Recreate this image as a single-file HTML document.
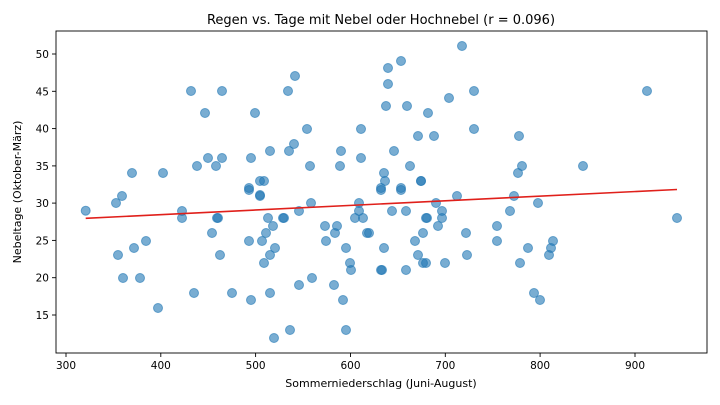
<!DOCTYPE html>
<html><head><meta charset="utf-8"><style>
html,body{margin:0;padding:0;background:#fff;}
svg{display:block;font-family:"DejaVu Sans","Liberation Sans",sans-serif;}
</style></head><body>
<svg width="720" height="405" viewBox="0 0 720 405" xmlns="http://www.w3.org/2000/svg">
<rect width="720" height="405" fill="#fff"/>
<text x="381" y="24" font-size="13" text-anchor="middle" fill="#000">Regen vs. Tage mit Nebel oder Hochnebel (r = 0.096)</text>
<g fill="#1f77b4" fill-opacity="0.6" stroke="#1f77b4" stroke-opacity="0.6" stroke-width="1">
<circle cx="85.7" cy="210.7" r="4.5"/><circle cx="116" cy="203" r="4.5"/><circle cx="122" cy="196" r="4.5"/>
<circle cx="118" cy="255" r="4.5"/><circle cx="123" cy="278" r="4.5"/><circle cx="134" cy="248" r="4.5"/>
<circle cx="146" cy="241" r="4.5"/><circle cx="140" cy="278" r="4.5"/><circle cx="158" cy="308" r="4.5"/>
<circle cx="182" cy="211" r="4.5"/><circle cx="182" cy="218" r="4.5"/><circle cx="194" cy="293" r="4.5"/>
<circle cx="212" cy="233" r="4.5"/><circle cx="218" cy="218" r="4.5"/><circle cx="217" cy="218" r="4.5"/>
<circle cx="220" cy="255" r="4.5"/><circle cx="232" cy="293" r="4.5"/><circle cx="249" cy="190" r="4.5"/>
<circle cx="249" cy="241" r="4.5"/><circle cx="251" cy="300" r="4.5"/><circle cx="260" cy="196" r="4.5"/>
<circle cx="262" cy="241" r="4.5"/><circle cx="266" cy="233" r="4.5"/><circle cx="268" cy="218" r="4.5"/>
<circle cx="273" cy="226" r="4.5"/><circle cx="264" cy="263" r="4.5"/><circle cx="270" cy="255" r="4.5"/>
<circle cx="275" cy="248" r="4.5"/><circle cx="270" cy="293" r="4.5"/><circle cx="274" cy="338" r="4.5"/>
<circle cx="283" cy="218" r="4.5"/><circle cx="284" cy="218" r="4.5"/><circle cx="290" cy="330" r="4.5"/>
<circle cx="299" cy="211" r="4.5"/><circle cx="299" cy="285" r="4.5"/><circle cx="311" cy="203" r="4.5"/>
<circle cx="312" cy="278" r="4.5"/><circle cx="325" cy="226" r="4.5"/><circle cx="326" cy="241" r="4.5"/>
<circle cx="337" cy="226" r="4.5"/><circle cx="335" cy="233" r="4.5"/><circle cx="346" cy="248" r="4.5"/>
<circle cx="334" cy="285" r="4.5"/><circle cx="343" cy="300" r="4.5"/><circle cx="346" cy="330" r="4.5"/>
<circle cx="350" cy="263" r="4.5"/><circle cx="351" cy="270" r="4.5"/><circle cx="355" cy="218" r="4.5"/>
<circle cx="359" cy="203" r="4.5"/><circle cx="359" cy="211" r="4.5"/><circle cx="363" cy="218" r="4.5"/>
<circle cx="367" cy="233" r="4.5"/><circle cx="369" cy="233" r="4.5"/>
<circle cx="132" cy="173" r="4.5"/><circle cx="163" cy="173" r="4.5"/><circle cx="191" cy="91" r="4.5"/>
<circle cx="222" cy="91" r="4.5"/><circle cx="205" cy="113" r="4.5"/><circle cx="255" cy="113" r="4.5"/>
<circle cx="288" cy="91" r="4.5"/><circle cx="295" cy="76" r="4.5"/><circle cx="307" cy="129" r="4.5"/>
<circle cx="361" cy="129" r="4.5"/><circle cx="294" cy="144" r="4.5"/><circle cx="289" cy="151" r="4.5"/>
<circle cx="270" cy="151" r="4.5"/><circle cx="251" cy="158" r="4.5"/><circle cx="222" cy="158" r="4.5"/>
<circle cx="208" cy="158" r="4.5"/><circle cx="197" cy="166" r="4.5"/><circle cx="216" cy="166" r="4.5"/>
<circle cx="310" cy="166" r="4.5"/><circle cx="340" cy="166" r="4.5"/><circle cx="341" cy="151" r="4.5"/>
<circle cx="361" cy="158" r="4.5"/><circle cx="260" cy="181" r="4.5"/><circle cx="264" cy="181" r="4.5"/>
<circle cx="249" cy="188" r="4.5"/><circle cx="260" cy="195" r="4.5"/>
<circle cx="462" cy="46" r="4.5"/><circle cx="401" cy="61" r="4.5"/><circle cx="388" cy="68" r="4.5"/>
<circle cx="388" cy="84" r="4.5"/><circle cx="386" cy="106" r="4.5"/><circle cx="407" cy="106" r="4.5"/>
<circle cx="449" cy="98" r="4.5"/><circle cx="474" cy="91" r="4.5"/><circle cx="647" cy="91" r="4.5"/>
<circle cx="428" cy="113" r="4.5"/><circle cx="418" cy="136" r="4.5"/><circle cx="434" cy="136" r="4.5"/>
<circle cx="474" cy="129" r="4.5"/><circle cx="519" cy="136" r="4.5"/><circle cx="394" cy="151" r="4.5"/>
<circle cx="410" cy="166" r="4.5"/><circle cx="384" cy="173" r="4.5"/><circle cx="385" cy="181" r="4.5"/>
<circle cx="381" cy="188" r="4.5"/><circle cx="401" cy="188" r="4.5"/><circle cx="421" cy="181" r="4.5"/>
<circle cx="421" cy="181" r="4.5"/><circle cx="522" cy="166" r="4.5"/><circle cx="518" cy="173" r="4.5"/>
<circle cx="583" cy="166" r="4.5"/>
<circle cx="381" cy="190" r="4.5"/><circle cx="401" cy="190" r="4.5"/><circle cx="457" cy="196" r="4.5"/>
<circle cx="514" cy="196" r="4.5"/><circle cx="436" cy="203" r="4.5"/><circle cx="538" cy="203" r="4.5"/>
<circle cx="392" cy="211" r="4.5"/><circle cx="406" cy="211" r="4.5"/><circle cx="442" cy="211" r="4.5"/>
<circle cx="510" cy="211" r="4.5"/><circle cx="426" cy="218" r="4.5"/><circle cx="427" cy="218" r="4.5"/>
<circle cx="442" cy="218" r="4.5"/><circle cx="677" cy="218" r="4.5"/><circle cx="438" cy="226" r="4.5"/>
<circle cx="497" cy="226" r="4.5"/><circle cx="423" cy="233" r="4.5"/><circle cx="466" cy="233" r="4.5"/>
<circle cx="415" cy="241" r="4.5"/><circle cx="497" cy="241" r="4.5"/><circle cx="553" cy="241" r="4.5"/>
<circle cx="384" cy="248" r="4.5"/><circle cx="528" cy="248" r="4.5"/><circle cx="551" cy="248" r="4.5"/>
<circle cx="418" cy="255" r="4.5"/><circle cx="467" cy="255" r="4.5"/><circle cx="549" cy="255" r="4.5"/>
<circle cx="423" cy="263" r="4.5"/><circle cx="426" cy="263" r="4.5"/><circle cx="445" cy="263" r="4.5"/>
<circle cx="520" cy="263" r="4.5"/><circle cx="381" cy="270" r="4.5"/><circle cx="382" cy="270" r="4.5"/>
<circle cx="406" cy="270" r="4.5"/><circle cx="534" cy="293" r="4.5"/><circle cx="540" cy="300" r="4.5"/>
</g>
<line x1="85.7" y1="218.3" x2="677" y2="189.5" stroke="#e0201b" stroke-width="1.6"/>
<rect x="56" y="31" width="651" height="322" fill="none" stroke="#000" stroke-width="0.9"/>
<g stroke="#000" stroke-width="0.9">
<line x1="66" y1="353" x2="66" y2="357"/><line x1="160.8" y1="353" x2="160.8" y2="357"/>
<line x1="255.6" y1="353" x2="255.6" y2="357"/><line x1="350.5" y1="353" x2="350.5" y2="357"/>
<line x1="445.3" y1="353" x2="445.3" y2="357"/><line x1="540.1" y1="353" x2="540.1" y2="357"/>
<line x1="635" y1="353" x2="635" y2="357"/>
<line x1="52" y1="54" x2="56" y2="54"/><line x1="52" y1="91.3" x2="56" y2="91.3"/>
<line x1="52" y1="128.6" x2="56" y2="128.6"/><line x1="52" y1="165.9" x2="56" y2="165.9"/>
<line x1="52" y1="203.1" x2="56" y2="203.1"/><line x1="52" y1="240.4" x2="56" y2="240.4"/>
<line x1="52" y1="277.7" x2="56" y2="277.7"/><line x1="52" y1="315" x2="56" y2="315"/>
</g>
<g font-size="10.5" fill="#000" text-anchor="middle">
<text x="66" y="369">300</text><text x="160.8" y="369">400</text><text x="255.6" y="369">500</text>
<text x="350.5" y="369">600</text><text x="445.3" y="369">700</text><text x="540.1" y="369">800</text>
<text x="635" y="369">900</text>
</g>
<g font-size="10.5" fill="#000" text-anchor="end">
<text x="49" y="58">50</text><text x="49" y="95.3">45</text><text x="49" y="132.6">40</text>
<text x="49" y="169.9">35</text><text x="49" y="207.1">30</text><text x="49" y="244.4">25</text>
<text x="49" y="281.7">20</text><text x="49" y="319">15</text>
</g>
<text x="381" y="387" font-size="11" text-anchor="middle" fill="#000">Sommerniederschlag (Juni-August)</text>
<text transform="translate(21,192) rotate(-90)" font-size="11" text-anchor="middle" fill="#000">Nebeltage (Oktober-März)</text>
</svg>
</body></html>
